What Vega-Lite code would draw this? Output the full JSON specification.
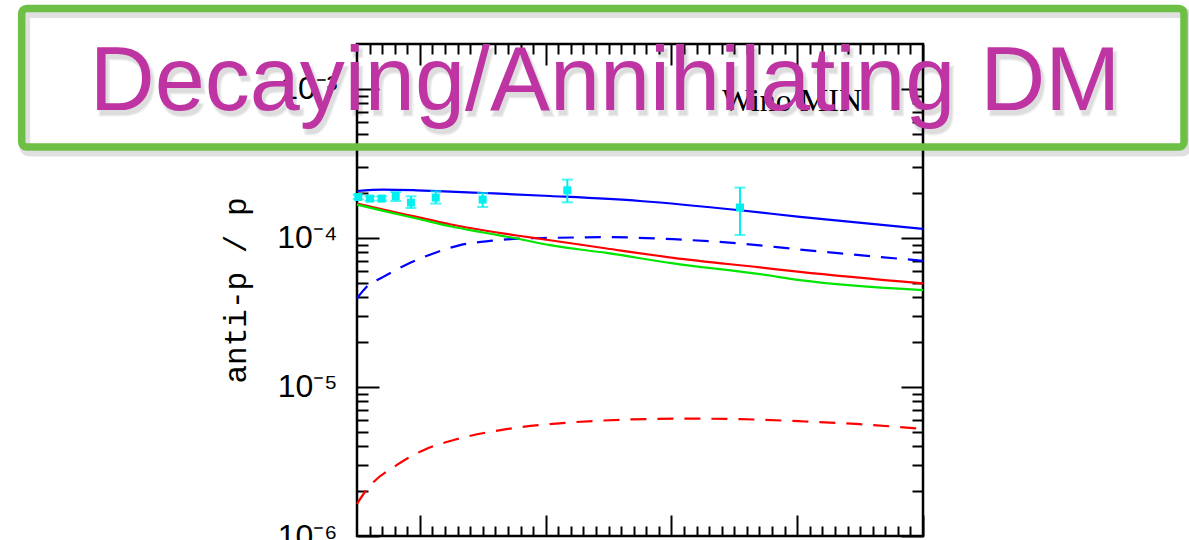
{
  "$schema": "https://vega.github.io/schema/vega-lite/v6.json",
  "width": 566,
  "height": 492,
  "autosize": "none",
  "padding": {"left": 357, "top": 44, "right": 266, "bottom": 4},
  "background": "white",
  "config": {
    "view": {"stroke": "black", "strokeWidth": 2.5},
    "axis": {"grid": false, "domain": false, "labels": false, "title": null, "tickColor": "black", "tickWidth": 2}
  },
  "datasets": {
    "curves": [
      {"series": "blue_solid", "x": 0.5, "y": 2.065e-4},
      {"series": "blue_solid", "x": 0.709, "y": 2.110e-4},
      {"series": "blue_solid", "x": 0.975, "y": 2.087e-4},
      {"series": "blue_solid", "x": 1.239, "y": 2.046e-4},
      {"series": "blue_solid", "x": 1.504, "y": 2.002e-4},
      {"series": "blue_solid", "x": 2.034, "y": 1.911e-4},
      {"series": "blue_solid", "x": 2.75, "y": 1.769e-4},
      {"series": "blue_solid", "x": 3.545, "y": 1.533e-4},
      {"series": "blue_solid", "x": 4.022, "y": 1.383e-4},
      {"series": "blue_solid", "x": 5.0, "y": 1.149e-4},
      {"series": "blue_dashed", "x": 0.5, "y": 3.93e-5},
      {"series": "blue_dashed", "x": 0.577, "y": 4.70e-5},
      {"series": "blue_dashed", "x": 0.709, "y": 5.48e-5},
      {"series": "blue_dashed", "x": 0.895, "y": 6.63e-5},
      {"series": "blue_dashed", "x": 1.107, "y": 7.87e-5},
      {"series": "blue_dashed", "x": 1.319, "y": 8.94e-5},
      {"series": "blue_dashed", "x": 1.557, "y": 9.55e-5},
      {"series": "blue_dashed", "x": 1.822, "y": 9.91e-5},
      {"series": "blue_dashed", "x": 2.034, "y": 1.0e-4},
      {"series": "blue_dashed", "x": 2.485, "y": 1.011e-4},
      {"series": "blue_dashed", "x": 3.015, "y": 0.980e-4},
      {"series": "blue_dashed", "x": 3.545, "y": 0.917e-4},
      {"series": "blue_dashed", "x": 4.022, "y": 0.836e-4},
      {"series": "blue_dashed", "x": 5.0, "y": 0.702e-4},
      {"series": "red_solid", "x": 0.5, "y": 1.700e-4},
      {"series": "red_solid", "x": 0.709, "y": 1.550e-4},
      {"series": "red_solid", "x": 0.975, "y": 1.383e-4},
      {"series": "red_solid", "x": 1.239, "y": 1.235e-4},
      {"series": "red_solid", "x": 1.504, "y": 1.126e-4},
      {"series": "red_solid", "x": 1.77, "y": 1.038e-4},
      {"series": "red_solid", "x": 2.034, "y": 0.965e-4},
      {"series": "red_solid", "x": 2.485, "y": 0.849e-4},
      {"series": "red_solid", "x": 3.015, "y": 0.735e-4},
      {"series": "red_solid", "x": 3.704, "y": 0.634e-4},
      {"series": "red_solid", "x": 4.022, "y": 0.592e-4},
      {"series": "red_solid", "x": 5.0, "y": 0.495e-4},
      {"series": "green_solid", "x": 0.5, "y": 1.674e-4},
      {"series": "green_solid", "x": 0.709, "y": 1.517e-4},
      {"series": "green_solid", "x": 0.975, "y": 1.349e-4},
      {"series": "green_solid", "x": 1.239, "y": 1.198e-4},
      {"series": "green_solid", "x": 1.504, "y": 1.087e-4},
      {"series": "green_solid", "x": 1.77, "y": 0.991e-4},
      {"series": "green_solid", "x": 2.034, "y": 0.894e-4},
      {"series": "green_solid", "x": 2.485, "y": 0.793e-4},
      {"series": "green_solid", "x": 3.015, "y": 0.674e-4},
      {"series": "green_solid", "x": 3.704, "y": 0.571e-4},
      {"series": "green_solid", "x": 4.022, "y": 0.521e-4},
      {"series": "green_solid", "x": 5.0, "y": 0.4465e-4},
      {"series": "red_dashed", "x": 0.5, "y": 1.645e-6},
      {"series": "red_dashed", "x": 0.576, "y": 2.04e-6},
      {"series": "red_dashed", "x": 0.818, "y": 3.00e-6},
      {"series": "red_dashed", "x": 1.033, "y": 3.78e-6},
      {"series": "red_dashed", "x": 1.275, "y": 4.42e-6},
      {"series": "red_dashed", "x": 1.70, "y": 5.23e-6},
      {"series": "red_dashed", "x": 2.185, "y": 5.77e-6},
      {"series": "red_dashed", "x": 2.643, "y": 6.04e-6},
      {"series": "red_dashed", "x": 3.10, "y": 6.13e-6},
      {"series": "red_dashed", "x": 3.553, "y": 6.08e-6},
      {"series": "red_dashed", "x": 4.012, "y": 5.89e-6},
      {"series": "red_dashed", "x": 4.467, "y": 5.65e-6},
      {"series": "red_dashed", "x": 5.0, "y": 5.22e-6}
    ],
    "points": [
      {"x": 0.51, "y": 1.882e-4, "lo": 1.82e-4, "hi": 1.95e-4},
      {"x": 0.603, "y": 1.836e-4, "lo": 1.78e-4, "hi": 1.90e-4},
      {"x": 0.696, "y": 1.836e-4, "lo": 1.78e-4, "hi": 1.90e-4},
      {"x": 0.808, "y": 1.911e-4, "lo": 1.769e-4, "hi": 2.033e-4},
      {"x": 0.929, "y": 1.726e-4, "lo": 1.588e-4, "hi": 1.902e-4},
      {"x": 1.126, "y": 1.865e-4, "lo": 1.700e-4, "hi": 2.055e-4},
      {"x": 1.499, "y": 1.808e-4, "lo": 1.613e-4, "hi": 2.002e-4},
      {"x": 2.172, "y": 2.087e-4, "lo": 1.734e-4, "hi": 2.461e-4},
      {"x": 3.545, "y": 1.598e-4, "lo": 1.047e-4, "hi": 2.176e-4}
    ]
  },
  "layer": [
    {
      "data": {"name": "curves"},
      "transform": [{"filter": "datum.series === 'blue_solid'"}],
      "mark": {"type": "line", "color": "#0000ff", "strokeWidth": 2.2, "interpolate": "monotone"},
      "encoding": {
        "x": {"field": "x", "type": "quantitative", "scale": {"domain": [0.5, 5], "nice": false, "zero": false},
              "axis": {"orient": "bottom", "values": [1, 2, 3, 4, 5], "tickSize": 21, "offset": -21}},
        "y": {"field": "y", "type": "quantitative", "scale": {"type": "log", "domain": [1e-6, 2e-3], "nice": false},
              "axis": {"orient": "left", "values": [1e-6, 1e-5, 1e-4, 1e-3], "ticks": false, "tickSize": 0,
                       "labels": true, "labelPadding": 20, "labelFont": "Liberation Sans", "labelFontSize": 32,
                       "labelColor": "black",
                       "labelExpr": "'10⁻' + ['⁶','⁵','⁴','³'][round(log(datum.value)/LN10) + 6]",
                       "title": "anti-p / p", "titleFont": "Liberation Mono", "titleFontSize": 31,
                       "titleFontWeight": "normal", "titleColor": "black", "titlePadding": 24}}
      }
    },
    {
      "data": {"name": "curves"},
      "transform": [{"filter": "datum.series === 'blue_dashed'"}],
      "mark": {"type": "line", "color": "#0000ff", "strokeWidth": 2.2, "strokeDash": [16, 11], "interpolate": "monotone"},
      "encoding": {
        "x": {"field": "x", "type": "quantitative", "scale": {"domain": [0.5, 5], "nice": false, "zero": false},
              "axis": {"orient": "bottom", "values": [0.6,0.7,0.8,0.9,1.1,1.2,1.3,1.4,1.5,1.6,1.7,1.8,1.9,2.1,2.2,2.3,2.4,2.5,2.6,2.7,2.8,2.9,3.1,3.2,3.3,3.4,3.5,3.6,3.7,3.8,3.9,4.1,4.2,4.3,4.4,4.5,4.6,4.7,4.8,4.9], "tickSize": 10, "offset": -10}},
        "y": {"field": "y", "type": "quantitative", "scale": {"type": "log", "domain": [1e-6, 2e-3], "nice": false},
              "axis": {"orient": "left", "values": [1e-6, 1e-5, 1e-4, 1e-3], "tickSize": 22, "offset": -22}}
      }
    },
    {
      "data": {"name": "curves"},
      "transform": [{"filter": "datum.series === 'red_solid'"}],
      "mark": {"type": "line", "color": "#ff0000", "strokeWidth": 2.2, "interpolate": "monotone"},
      "encoding": {
        "x": {"field": "x", "type": "quantitative", "scale": {"domain": [0.5, 5], "nice": false, "zero": false},
              "axis": {"orient": "top", "values": [1, 2, 3, 4, 5], "tickSize": 21, "offset": -21}},
        "y": {"field": "y", "type": "quantitative", "scale": {"type": "log", "domain": [1e-6, 2e-3], "nice": false},
              "axis": {"orient": "left", "values": [2e-6,3e-6,4e-6,5e-6,6e-6,7e-6,8e-6,9e-6,2e-5,3e-5,4e-5,5e-5,6e-5,7e-5,8e-5,9e-5,2e-4,3e-4,4e-4,5e-4,6e-4,7e-4,8e-4,9e-4], "tickSize": 11, "offset": -11}}
      }
    },
    {
      "data": {"name": "curves"},
      "transform": [{"filter": "datum.series === 'green_solid'"}],
      "mark": {"type": "line", "color": "#00e600", "strokeWidth": 2.2, "interpolate": "monotone"},
      "encoding": {
        "x": {"field": "x", "type": "quantitative", "scale": {"domain": [0.5, 5], "nice": false, "zero": false},
              "axis": {"orient": "top", "values": [0.6,0.7,0.8,0.9,1.1,1.2,1.3,1.4,1.5,1.6,1.7,1.8,1.9,2.1,2.2,2.3,2.4,2.5,2.6,2.7,2.8,2.9,3.1,3.2,3.3,3.4,3.5,3.6,3.7,3.8,3.9,4.1,4.2,4.3,4.4,4.5,4.6,4.7,4.8,4.9], "tickSize": 10, "offset": -10}},
        "y": {"field": "y", "type": "quantitative", "scale": {"type": "log", "domain": [1e-6, 2e-3], "nice": false},
              "axis": {"orient": "right", "values": [1e-6, 1e-5, 1e-4, 1e-3], "tickSize": 22, "offset": -22}}
      }
    },
    {
      "data": {"name": "curves"},
      "transform": [{"filter": "datum.series === 'red_dashed'"}],
      "mark": {"type": "line", "color": "#ff0000", "strokeWidth": 2.2, "strokeDash": [16, 11], "interpolate": "monotone"},
      "encoding": {
        "x": {"field": "x", "type": "quantitative", "scale": {"domain": [0.5, 5], "nice": false, "zero": false}, "axis": null},
        "y": {"field": "y", "type": "quantitative", "scale": {"type": "log", "domain": [1e-6, 2e-3], "nice": false},
              "axis": {"orient": "right", "values": [2e-6,3e-6,4e-6,5e-6,6e-6,7e-6,8e-6,9e-6,2e-5,3e-5,4e-5,5e-5,6e-5,7e-5,8e-5,9e-5,2e-4,3e-4,4e-4,5e-4,6e-4,7e-4,8e-4,9e-4], "tickSize": 11, "offset": -11}}
      }
    },
    {
      "data": {"name": "points"},
      "mark": {"type": "rule", "color": "#00f0f0", "strokeWidth": 2},
      "encoding": {
        "x": {"field": "x", "type": "quantitative", "scale": {"domain": [0.5, 5], "nice": false, "zero": false}, "axis": null},
        "y": {"field": "lo", "type": "quantitative", "scale": {"type": "log", "domain": [1e-6, 2e-3], "nice": false}, "axis": null},
        "y2": {"field": "hi"}
      }
    },
    {
      "data": {"name": "points"},
      "mark": {"type": "tick", "color": "#00f0f0", "orient": "horizontal", "size": 11, "thickness": 2},
      "encoding": {
        "x": {"field": "x", "type": "quantitative", "scale": {"domain": [0.5, 5], "nice": false, "zero": false}, "axis": null},
        "y": {"field": "lo", "type": "quantitative", "scale": {"type": "log", "domain": [1e-6, 2e-3], "nice": false}, "axis": null}
      }
    },
    {
      "data": {"name": "points"},
      "mark": {"type": "tick", "color": "#00f0f0", "orient": "horizontal", "size": 11, "thickness": 2},
      "encoding": {
        "x": {"field": "x", "type": "quantitative", "scale": {"domain": [0.5, 5], "nice": false, "zero": false}, "axis": null},
        "y": {"field": "hi", "type": "quantitative", "scale": {"type": "log", "domain": [1e-6, 2e-3], "nice": false}, "axis": null}
      }
    },
    {
      "data": {"name": "points"},
      "mark": {"type": "square", "color": "#00f0f0", "filled": true, "opacity": 1, "size": 64},
      "encoding": {
        "x": {"field": "x", "type": "quantitative", "scale": {"domain": [0.5, 5], "nice": false, "zero": false}, "axis": null},
        "y": {"field": "y", "type": "quantitative", "scale": {"type": "log", "domain": [1e-6, 2e-3], "nice": false}, "axis": null}
      }
    },
    {
      "data": {"values": [{"label": "Wino MIN"}]},
      "mark": {"type": "text", "font": "Liberation Serif", "fontSize": 32, "align": "right", "baseline": "alphabetic", "color": "black"},
      "encoding": {
        "x": {"datum": 4.515, "type": "quantitative", "scale": {"domain": [0.5, 5], "nice": false, "zero": false}, "axis": null},
        "y": {"datum": 7.056e-4, "type": "quantitative", "scale": {"type": "log", "domain": [1e-6, 2e-3], "nice": false}, "axis": null},
        "text": {"field": "label"}
      }
    },
    {
      "data": {"values": [{"label": "box"}]},
      "mark": {"type": "rect", "fill": null, "fillOpacity": 0, "stroke": "#000000", "strokeOpacity": 0.12, "strokeWidth": 11, "cornerRadius": 5, "xOffset": 3, "x2Offset": 3, "yOffset": 4, "y2Offset": 4},
      "encoding": {
        "x": {"datum": -2.166, "type": "quantitative", "scale": {"domain": [0.5, 5], "nice": false, "zero": false}, "axis": null},
        "x2": {"datum": 7.075},
        "y": {"datum": 3.467e-3, "type": "quantitative", "scale": {"type": "log", "domain": [1e-6, 2e-3], "nice": false}, "axis": null},
        "y2": {"datum": 4.07e-4}
      }
    },
    {
      "data": {"values": [{"label": "box"}]},
      "mark": {"type": "rect", "fill": null, "fillOpacity": 0, "stroke": "#6dbf45", "strokeWidth": 7.5, "cornerRadius": 5},
      "encoding": {
        "x": {"datum": -2.166, "type": "quantitative", "scale": {"domain": [0.5, 5], "nice": false, "zero": false}, "axis": null},
        "x2": {"datum": 7.075},
        "y": {"datum": 3.467e-3, "type": "quantitative", "scale": {"type": "log", "domain": [1e-6, 2e-3], "nice": false}, "axis": null},
        "y2": {"datum": 4.07e-4}
      }
    },
    {
      "data": {"values": [{"label": "Decaying/Annihilating DM"}]},
      "mark": {"type": "text", "font": "Liberation Sans", "fontSize": 90, "align": "center", "baseline": "alphabetic", "color": "#000000", "opacity": 0.13, "dx": 3, "dy": 5, "stroke": "#000000", "strokeWidth": 3, "strokeOpacity": 0.5},
      "encoding": {
        "x": {"datum": 2.472, "type": "quantitative", "scale": {"domain": [0.5, 5], "nice": false, "zero": false}, "axis": null},
        "y": {"datum": 7.167e-4, "type": "quantitative", "scale": {"type": "log", "domain": [1e-6, 2e-3], "nice": false}, "axis": null},
        "text": {"field": "label"}
      }
    },
    {
      "data": {"values": [{"label": "Decaying/Annihilating DM"}]},
      "mark": {"type": "text", "font": "Liberation Sans", "fontSize": 90, "align": "center", "baseline": "alphabetic", "color": "#be34a3"},
      "encoding": {
        "x": {"datum": 2.472, "type": "quantitative", "scale": {"domain": [0.5, 5], "nice": false, "zero": false}, "axis": null},
        "y": {"datum": 7.167e-4, "type": "quantitative", "scale": {"type": "log", "domain": [1e-6, 2e-3], "nice": false}, "axis": null},
        "text": {"field": "label"}
      }
    }
  ],
  "resolve": {"axis": {"x": "independent", "y": "independent"}}
}
